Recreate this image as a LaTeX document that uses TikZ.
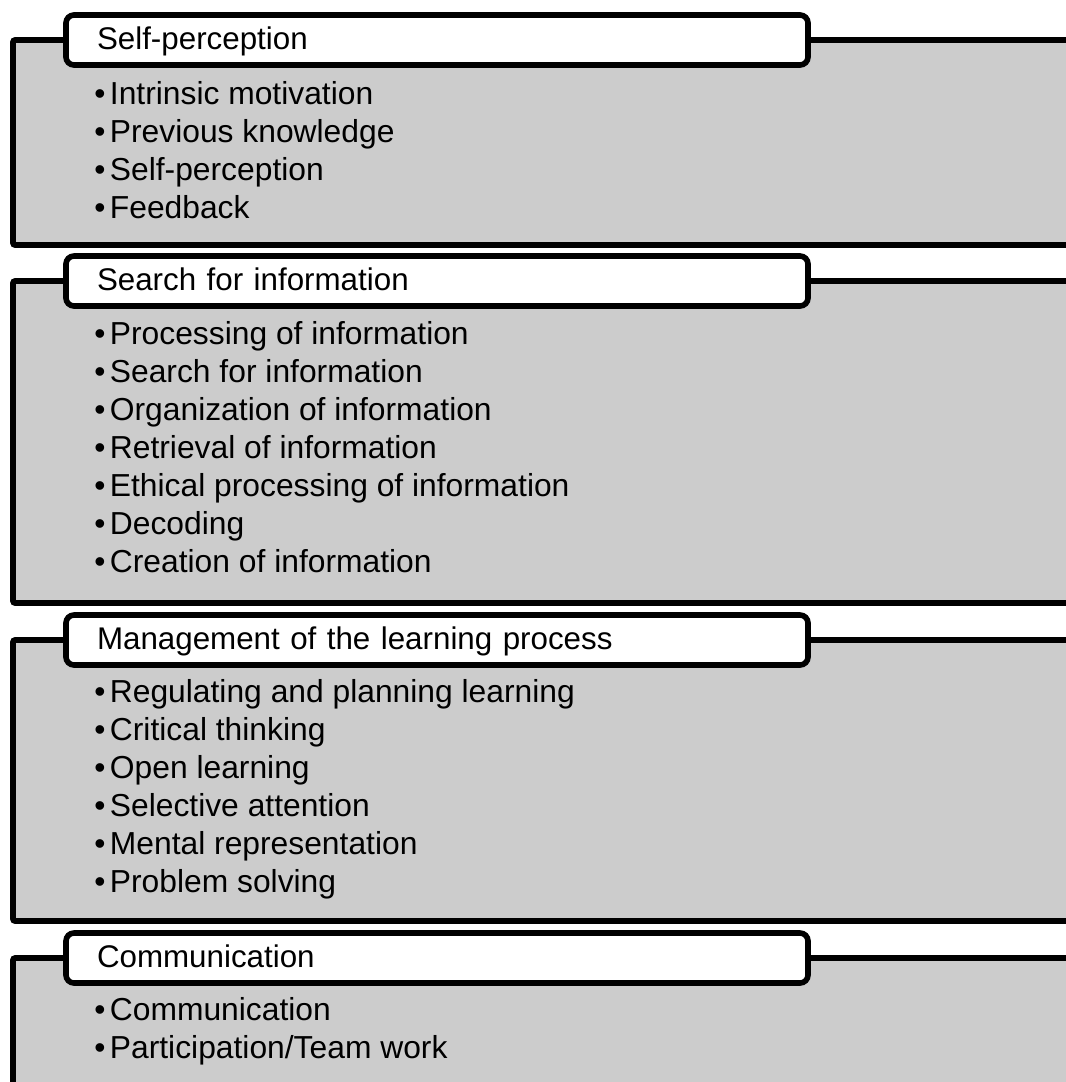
\documentclass[tikz,border=0pt]{standalone}
\usepackage{fontspec}
\setmainfont{Liberation Sans}
\usetikzlibrary{positioning}
\definecolor{panelgray}{HTML}{CCCCCC}

\begin{document}
\begin{tikzpicture}[x=0.75pt, y=-0.75pt,
  panel/.style={draw, fill=panelgray, line width=4.2pt, rounded corners=1.5pt},
  head/.style={draw, fill=white, line width=4.2pt, rounded corners=6pt,
               minimum height=37.5pt, text width=510pt, inner xsep=23.25pt,
               text height=18pt, text depth=4pt, align=left,
               font=\fontsize{23.5}{28}\selectfont},
  item/.style={anchor=base west, inner sep=0pt,
               font=\fontsize{23.85}{28}\selectfont}
]
  \useasboundingbox (0,0) rectangle (1066,1082);
  \clip (0,0) rectangle (1066,1082);

  % panels
  \draw[panel] (13,40) rectangle (1090,245);
  \draw[panel] (13,281) rectangle (1090,603);
  \draw[panel] (13,640) rectangle (1090,921);
  \draw[panel] (13,958) rectangle (1090,1110);

  % headings
  \node[head] (selfhead) at (437,40) {Self-perception};
  \node[head] (searchhead) at (437,281) {Search for information};
  \node[head] (manhead) at (437,640) {Management of the learning process};
  \node[head] (comhead) at (437,958) {Communication};

  % items
  \foreach \txt [count=\i] in {Intrinsic motivation, Previous knowledge,
      Self-perception, Feedback}
    \node[item] (self\i) at (94,{104+38*(\i-1)}) {•\kern3.4pt\txt};
  \foreach \txt [count=\i] in {Processing of information, Search for information,
      Organization of information, Retrieval of information,
      Ethical processing of information, Decoding, Creation of information}
    \node[item] (search\i) at (94,{344+38*(\i-1)}) {•\kern3.4pt\txt};
  \foreach \txt [count=\i] in {Regulating and planning learning, Critical thinking,
      Open learning, Selective attention, Mental representation, Problem solving}
    \node[item] (man\i) at (94,{702+38*(\i-1)}) {•\kern3.4pt\txt};
  \foreach \txt [count=\i] in {Communication, Participation/Team work}
    \node[item] (com\i) at (94,{1020+38*(\i-1)}) {•\kern3.4pt\txt};
\end{tikzpicture}
\end{document}
